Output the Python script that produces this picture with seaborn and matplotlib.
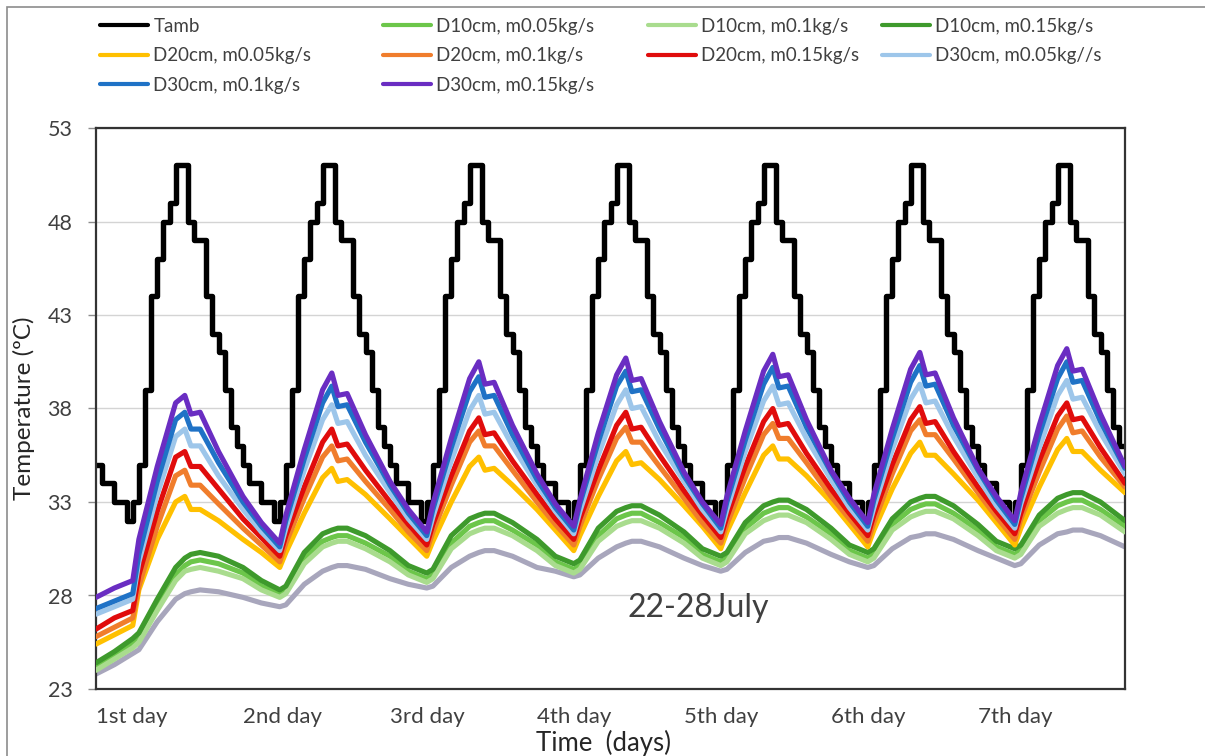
import matplotlib
matplotlib.use("Agg")
import matplotlib.pyplot as plt
from matplotlib.lines import Line2D
from matplotlib.patches import Rectangle
import seaborn as sns

# ---------------------------------------------------------------------------
# Data
# ---------------------------------------------------------------------------
# Ambient temperature, hourly values (held constant over each hour)
TAMB_HOURS = list(range(169))
TAMB = [
    35, 34, 34, 33, 33, 32, 33, 35, 39, 44, 46, 48, 49, 51, 51, 48, 47, 47, 44, 42, 41, 39, 37, 36,
    35, 34, 34, 33, 33, 32, 33, 35, 39, 44, 46, 48, 49, 51, 51, 48, 47, 47, 44, 42, 41, 39, 37, 36,
    35, 34, 34, 33, 33, 32, 33, 35, 39, 44, 46, 48, 49, 51, 51, 48, 47, 47, 44, 42, 41, 39, 37, 36,
    35, 34, 34, 33, 33, 32, 33, 35, 39, 44, 46, 48, 49, 51, 51, 48, 47, 47, 44, 42, 41, 39, 37, 36,
    35, 34, 34, 33, 33, 32, 33, 35, 39, 44, 46, 48, 49, 51, 51, 48, 47, 47, 44, 42, 41, 39, 37, 36,
    35, 34, 34, 33, 33, 32, 33, 35, 39, 44, 46, 48, 49, 51, 51, 48, 47, 47, 44, 42, 41, 39, 37, 36,
    35, 34, 34, 33, 33, 32, 33, 35, 39, 44, 46, 48, 49, 51, 51, 48, 47, 47, 44, 42, 41, 39, 37, 36,
    36,
]

# Sampling times (hours) of the outlet temperature curves
TIME_H = [
    0, 3, 6, 7, 10, 13, 14.5, 15.5, 17, 20,
    24, 27, 30, 31, 34, 37, 38.5, 39.5, 41, 44,
    48, 51, 54, 55, 58, 61, 62.5, 63.5, 65, 68,
    72, 75, 78, 79, 82, 85, 86.5, 87.5, 89, 92,
    96, 99, 102, 103, 106, 109, 110.5, 111.5, 113, 116,
    120, 123, 126, 127, 130, 133, 134.5, 135.5, 137, 140,
    144, 147, 150, 151, 154, 157, 158.5, 159.5, 161, 164,
    168,
]

D10_M005 = [
    24.2, 24.8, 25.4, 25.7, 27.5, 29.1, 29.6, 29.8, 29.9, 29.7,
    29.2, 28.5, 28.1, 28.3, 30.0, 30.9, 31.1, 31.2, 31.2, 30.8,
    30.1, 29.3, 28.9, 29.1, 30.8, 31.7, 31.9, 32.0, 32.0, 31.5,
    30.7, 29.8, 29.4, 29.6, 31.2, 32.1, 32.3, 32.4, 32.4, 31.9,
    31.1, 30.2, 29.8, 30.0, 31.6, 32.4, 32.6, 32.7, 32.7, 32.2,
    31.3, 30.4, 30.0, 30.2, 31.8, 32.6, 32.8, 32.9, 32.9, 32.4,
    31.5, 30.6, 30.2, 30.4, 32.0, 32.8, 33.0, 33.1, 33.1, 32.6,
    31.7,
]
D10_M010 = [
    24.0, 24.6, 25.2, 25.5, 27.2, 28.8, 29.3, 29.4, 29.5, 29.3,
    28.9, 28.3, 27.9, 28.1, 29.7, 30.6, 30.8, 30.9, 30.9, 30.5,
    29.8, 29.1, 28.7, 28.9, 30.5, 31.3, 31.5, 31.6, 31.6, 31.2,
    30.4, 29.6, 29.2, 29.4, 30.9, 31.7, 31.9, 32.0, 32.0, 31.6,
    30.8, 30.0, 29.6, 29.8, 31.3, 32.0, 32.2, 32.3, 32.3, 31.9,
    31.0, 30.2, 29.8, 30.0, 31.5, 32.2, 32.4, 32.5, 32.5, 32.1,
    31.2, 30.4, 30.0, 30.2, 31.7, 32.4, 32.6, 32.7, 32.7, 32.3,
    31.4,
]
D10_M015 = [
    24.4, 25.0, 25.7, 26.0, 27.8, 29.5, 30.0, 30.2, 30.3, 30.1,
    29.5, 28.8, 28.3, 28.5, 30.3, 31.3, 31.5, 31.6, 31.6, 31.2,
    30.4, 29.6, 29.2, 29.4, 31.2, 32.1, 32.3, 32.4, 32.4, 31.9,
    31.0, 30.1, 29.7, 29.9, 31.6, 32.5, 32.7, 32.8, 32.8, 32.3,
    31.4, 30.5, 30.1, 30.3, 31.9, 32.8, 33.0, 33.1, 33.1, 32.6,
    31.6, 30.7, 30.3, 30.5, 32.1, 33.0, 33.2, 33.3, 33.3, 32.8,
    31.8, 30.9, 30.5, 30.7, 32.3, 33.2, 33.4, 33.5, 33.5, 33.0,
    32.0,
]
D20_M005 = [
    25.4, 25.9, 26.4, 28.3, 31.0, 33.0, 33.3, 32.6, 32.6, 32.0,
    31.0, 30.3, 29.5, 30.3, 32.4, 34.3, 34.8, 34.1, 34.2, 33.4,
    32.1, 31.1, 30.1, 30.9, 33.0, 34.9, 35.4, 34.7, 34.8, 33.9,
    32.6, 31.5, 30.4, 31.2, 33.3, 35.2, 35.7, 35.0, 35.1, 34.2,
    32.8, 31.7, 30.5, 31.4, 33.5, 35.5, 36.0, 35.3, 35.3, 34.4,
    33.0, 31.8, 30.6, 31.5, 33.7, 35.6, 36.2, 35.5, 35.5, 34.5,
    33.1, 31.9, 30.7, 31.6, 33.8, 35.8, 36.4, 35.7, 35.7, 34.7,
    33.5,
]
D20_M010 = [
    25.8, 26.3, 26.8, 28.5, 31.7, 34.4, 34.7, 33.9, 33.9, 32.9,
    31.6, 30.7, 29.8, 30.8, 33.2, 35.4, 36.0, 35.2, 35.3, 34.1,
    32.6, 31.4, 30.4, 31.4, 33.9, 36.2, 36.8, 36.0, 36.0, 34.7,
    33.0, 31.8, 30.7, 31.7, 34.2, 36.4, 37.0, 36.2, 36.2, 34.9,
    33.2, 31.9, 30.8, 31.8, 34.3, 36.6, 37.2, 36.4, 36.4, 35.1,
    33.3, 32.1, 30.9, 31.9, 34.5, 36.8, 37.4, 36.6, 36.6, 35.3,
    33.5, 32.2, 31.0, 32.1, 34.6, 36.9, 37.6, 36.7, 36.8, 35.4,
    33.8,
]
D20_M015 = [
    26.2, 26.8, 27.2, 29.1, 32.5, 35.4, 35.7, 34.9, 34.9, 33.7,
    32.1, 31.1, 30.1, 31.2, 33.8, 36.2, 36.9, 36.0, 36.1, 34.7,
    33.0, 31.8, 30.7, 31.8, 34.4, 36.8, 37.5, 36.6, 36.7, 35.2,
    33.4, 32.1, 31.0, 32.1, 34.7, 37.1, 37.8, 36.9, 37.0, 35.5,
    33.6, 32.3, 31.1, 32.2, 34.9, 37.3, 38.0, 37.1, 37.2, 35.6,
    33.7, 32.4, 31.2, 32.3, 35.0, 37.4, 38.1, 37.2, 37.3, 35.7,
    33.8, 32.5, 31.3, 32.4, 35.2, 37.6, 38.3, 37.4, 37.5, 35.9,
    34.0,
]
D30_M005 = [
    27.0, 27.4, 27.8, 29.8, 33.4, 36.5, 36.9, 36.0, 36.0, 34.4,
    32.6, 31.4, 30.4, 31.6, 34.7, 37.4, 38.2, 37.2, 37.3, 35.5,
    33.5, 32.1, 31.0, 32.2, 35.2, 37.9, 38.7, 37.7, 37.8, 36.0,
    33.9, 32.5, 31.3, 32.5, 35.5, 38.2, 39.0, 38.0, 38.1, 36.2,
    34.1, 32.6, 31.4, 32.6, 35.7, 38.4, 39.2, 38.2, 38.3, 36.4,
    34.2, 32.7, 31.5, 32.7, 35.8, 38.5, 39.3, 38.3, 38.4, 36.5,
    34.3, 32.8, 31.6, 32.9, 35.9, 38.7, 39.5, 38.5, 38.6, 36.7,
    34.5,
]
D30_M010 = [
    27.3, 27.7, 28.1, 30.2, 34.1, 37.4, 37.8, 36.9, 36.9, 35.1,
    33.0, 31.7, 30.6, 32.0, 35.3, 38.3, 39.2, 38.1, 38.2, 36.2,
    33.9, 32.4, 31.2, 32.6, 35.9, 38.9, 39.7, 38.6, 38.7, 36.6,
    34.2, 32.7, 31.5, 32.9, 36.2, 39.2, 40.0, 38.9, 39.0, 36.9,
    34.4, 32.9, 31.6, 33.0, 36.3, 39.3, 40.2, 39.1, 39.2, 37.0,
    34.6, 33.0, 31.7, 33.1, 36.4, 39.4, 40.3, 39.2, 39.3, 37.1,
    34.7, 33.1, 31.8, 33.2, 36.6, 39.6, 40.5, 39.4, 39.5, 37.3,
    34.8,
]
D30_M015 = [
    27.9, 28.4, 28.8, 31.0, 34.9, 38.3, 38.7, 37.7, 37.8, 35.7,
    33.3, 31.9, 30.8, 32.3, 35.8, 39.0, 39.9, 38.7, 38.8, 36.6,
    34.1, 32.6, 31.4, 32.9, 36.4, 39.6, 40.5, 39.3, 39.4, 37.1,
    34.5, 32.9, 31.7, 33.1, 36.7, 39.8, 40.7, 39.5, 39.6, 37.3,
    34.6, 33.0, 31.8, 33.3, 36.8, 40.0, 40.9, 39.7, 39.8, 37.4,
    34.7, 33.2, 31.9, 33.4, 36.9, 40.1, 41.0, 39.8, 39.9, 37.5,
    34.8, 33.3, 32.0, 33.5, 37.1, 40.3, 41.2, 40.0, 40.1, 37.7,
    34.9,
]
# Additional reference curve (not listed in the legend)
REF_CURVE = [
    23.8, 24.3, 24.9, 25.1, 26.6, 27.8, 28.1, 28.2, 28.3, 28.2,
    27.9, 27.6, 27.4, 27.5, 28.6, 29.3, 29.5, 29.6, 29.6, 29.4,
    28.9, 28.6, 28.4, 28.5, 29.5, 30.1, 30.3, 30.4, 30.4, 30.1,
    29.5, 29.3, 29.0, 29.1, 30.0, 30.6, 30.8, 30.9, 30.9, 30.6,
    30.0, 29.6, 29.3, 29.4, 30.3, 30.9, 31.0, 31.1, 31.1, 30.8,
    30.2, 29.8, 29.5, 29.6, 30.5, 31.1, 31.2, 31.3, 31.3, 31.0,
    30.4, 30.0, 29.6, 29.7, 30.7, 31.3, 31.4, 31.5, 31.5, 31.2,
    30.6,
]

DAY_TICKS = [0, 24, 48, 72, 96, 120, 144]
DAY_LABELS = ["1st day", "2nd day", "3rd day", "4th day", "5th day", "6th day", "7th day"]
Y_TICKS = [23, 28, 33, 38, 43, 48, 53]

SERIES = [
    ("D10cm, m0.05kg/s", D10_M005, "#6CC64A"),
    ("D10cm, m0.1kg/s", D10_M010, "#A9DC8E"),
    ("D10cm, m0.15kg/s", D10_M015, "#3E9A2C"),
    ("D20cm, m0.05kg/s", D20_M005, "#FFC000"),
    ("D20cm, m0.1kg/s", D20_M010, "#F07D2C"),
    ("D20cm, m0.15kg/s", D20_M015, "#E00C0C"),
    ("D30cm, m0.05kg//s", D30_M005, "#9DC6EA"),
    ("D30cm, m0.1kg/s", D30_M010, "#1F72C6"),
    ("D30cm, m0.15kg/s", D30_M015, "#6A2DC2"),
]
TAMB_COLOR = "#000000"
REF_COLOR = "#A8A6BC"

# ---------------------------------------------------------------------------
# Figure
# ---------------------------------------------------------------------------
sns.set_theme(style="white")
plt.rcParams["font.family"] = ["Lato", "DejaVu Sans"]
TEXT_COLOR = "#404040"

W, H = 1205, 756
fig = plt.figure(figsize=(W / 100, H / 100), dpi=100)
fig.patch.set_facecolor("white")

# chart-area border
fig.add_artist(Rectangle((7 / W, -0.05), (1215 - 7) / W, 1 - 7 / H + 0.05,
                         transform=fig.transFigure, fill=False,
                         edgecolor="#8C8C8C", lw=1.2))

L, R, T, B = 96, 1125, 128, 689
ax = fig.add_axes([L / W, 1 - B / H, (R - L) / W, (B - T) / H])

LW = 3.7
sns.lineplot(x=TIME_H, y=REF_CURVE, ax=ax, color=REF_COLOR, lw=LW, sort=False,
             legend=False, zorder=2)
sns.lineplot(x=TAMB_HOURS, y=TAMB, ax=ax, color=TAMB_COLOR, lw=3.9, sort=False,
             drawstyle="steps-post", legend=False, zorder=2)
for i, (name, vals, col) in enumerate(SERIES):
    sns.lineplot(x=TIME_H, y=vals, ax=ax, color=col, lw=LW, sort=False,
                 legend=False, zorder=3 + i)

ax.set_xlim(0, 168)
ax.set_ylim(23, 53)
ax.set_yticks(Y_TICKS)
ax.set_yticklabels([str(v) for v in Y_TICKS], fontsize=15.5, color=TEXT_COLOR)
ax.set_xticks(DAY_TICKS)
ax.set_xticklabels(DAY_LABELS, fontsize=16, color=TEXT_COLOR, ha="left")
ax.tick_params(axis="x", length=0, pad=13)
ax.tick_params(axis="y", length=6, width=1, color="#8C8C8C", pad=11, left=True)
ax.grid(axis="y", color="#D4D4D4", lw=1)
ax.grid(axis="x", visible=False)
ax.set_axisbelow(True)
for sp in ax.spines.values():
    sp.set_visible(True)
    sp.set_color("#333333")
    sp.set_linewidth(1.6)

ax.set_ylabel("Temperature (ºC)", fontsize=17.5, color="#262626")
ax.yaxis.set_label_coords((24 - L) / (R - L), 0.5)
ax.yaxis.label.set_verticalalignment("center")
ax.set_xlabel("Time  (days)", fontsize=18.5, color="#262626")
ax.xaxis.set_label_coords((604 - L) / (R - L), (B - 743) / (B - T))
ax.xaxis.label.set_verticalalignment("center")

ax.text(86.7, 26.85, "22-28July", fontsize=23, color=TEXT_COLOR,
        ha="left", va="baseline")

# Legend laid out as four columns
handle = lambda c, lw=3.0: Line2D([], [], color=c, lw=lw)
cols = dict((n, c) for n, _, c in SERIES)
legend_cols = [
    [("Tamb", TAMB_COLOR), ("D20cm, m0.05kg/s", cols["D20cm, m0.05kg/s"]),
     ("D30cm, m0.1kg/s", cols["D30cm, m0.1kg/s"])],
    [("D10cm, m0.05kg/s", cols["D10cm, m0.05kg/s"]), ("D20cm, m0.1kg/s", cols["D20cm, m0.1kg/s"]),
     ("D30cm, m0.15kg/s", cols["D30cm, m0.15kg/s"])],
    [("D10cm, m0.1kg/s", cols["D10cm, m0.1kg/s"]), ("D20cm, m0.15kg/s", cols["D20cm, m0.15kg/s"])],
    [("D10cm, m0.15kg/s", cols["D10cm, m0.15kg/s"]), ("D30cm, m0.05kg//s", cols["D30cm, m0.05kg//s"])],
]
col_x = [100, 383, 648, 882]
for x0, entries in zip(col_x, legend_cols):
    leg = fig.legend([handle(c) for _, c in entries], [n for n, _ in entries],
                     loc="upper left", bbox_to_anchor=(x0 / W, 1 - 18 / H),
                     frameon=False, fontsize=13.5, handlelength=2.55,
                     handletextpad=0.3, labelspacing=0.66, borderpad=0,
                     borderaxespad=0)
    for t in leg.get_texts():
        t.set_color(TEXT_COLOR)

fig.savefig("out.png", dpi=100, facecolor="white")
